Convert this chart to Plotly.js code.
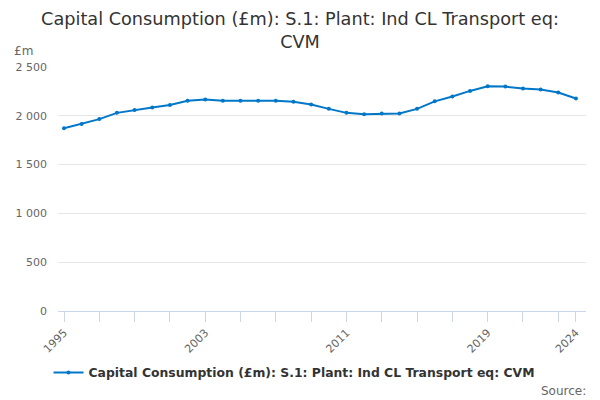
<!DOCTYPE html>
<html>
<head>
<meta charset="utf-8">
<script src="https://cdn.plot.ly/plotly-3.0.1.min.js"></script>
<style>
  body { margin: 0; }
  #chart { width: 600px; height: 400px; }
</style>
</head>
<body>
<div id="chart"></div>
<script>
// values
const years = [1995, 1996, 1997, 1998, 1999, 2000, 2001, 2002, 2003, 2004,
  2005, 2006, 2007, 2008, 2009, 2010, 2011, 2012, 2013, 2014,
  2015, 2016, 2017, 2018, 2019, 2020, 2021, 2022, 2023, 2024];
const capCons = [1872, 1916, 1966, 2030, 2060, 2084, 2111, 2155, 2168, 2155,
  2155, 2155, 2155, 2144, 2116, 2071, 2030, 2017, 2024, 2024,
  2071, 2148, 2198, 2255, 2302, 2299, 2279, 2269, 2239, 2178];
const tickYears = [1995, 1997, 1999, 2001, 2003, 2005, 2007, 2009, 2011,
  2013, 2015, 2017, 2019, 2021, 2023, 2024];
const labelYears = [1995, 2003, 2011, 2019, 2024];
const yTicks = [0, 500, 1000, 1500, 2000, 2500];

const seriesName = 'Capital Consumption (£m): S.1: Plant: Ind CL Transport eq: CVM';
const font = 'DejaVu Sans, Verdana, sans-serif';

const trace = {
  x: years,
  y: capCons,
  name: seriesName,
  type: 'scatter',
  mode: 'lines+markers',
  line: { color: '#0077c8', width: 2 },
  marker: { color: '#0077c8', size: 4 },
  hoverinfo: 'x+y'
};

const layout = {
  width: 600,
  height: 400,
  font: { family: font, color: '#666666' },
  separators: '. ',
  paper_bgcolor: '#ffffff',
  plot_bgcolor: '#ffffff',
  margin: { l: 58, r: 14, t: 67, b: 89 },
  title: {
    text: 'Capital Consumption (£m): S.1: Plant: Ind CL Transport eq:<br>CVM',
    font: { family: font, size: 17.7, color: '#333333' },
    x: 0.5,
    xanchor: 'center',
    yref: 'container',
    y: 0.937,
    yanchor: 'top',
    automargin: false
  },
  xaxis: {
    range: [1994.66, 2024.57],
    tickmode: 'array',
    tickvals: tickYears,
    ticktext: tickYears.map(y => labelYears.includes(y) ? String(y) : ''),
    tickangle: -45,
    ticks: 'outside',
    ticklen: 10,
    tickcolor: '#ccd6eb',
    tickfont: { size: 11, color: '#666666' },
    showgrid: false,
    showline: true,
    linecolor: '#ccd6eb',
    linewidth: 1,
    zeroline: false,
    automargin: false,
    fixedrange: true
  },
  yaxis: {
    range: [0, 2500],
    tickmode: 'array',
    tickvals: yTicks,
    tickformat: ',d',
    tickfont: { size: 11, color: '#666666' },
    ticks: '',
    ticklabelstandoff: 10,
    showgrid: true,
    gridcolor: '#e6e6e6',
    zeroline: false,
    showline: false,
    automargin: false,
    fixedrange: true
  },
  showlegend: true,
  legend: {
    orientation: 'h',
    x: 0.447,
    xanchor: 'center',
    xref: 'paper',
    yref: 'container',
    y: 0.0675,
    yanchor: 'middle',
    itemwidth: 30,
    font: { family: font, size: 12.4, color: '#333333', weight: 'bold' }
  },
  annotations: [
    {
      text: '£m',
      xref: 'paper', yref: 'paper',
      x: -0.087, y: 1.03,
      xanchor: 'left', yanchor: 'bottom',
      showarrow: false,
      font: { family: font, size: 12, color: '#666666' }
    },
    {
      text: 'Source:',
      xref: 'paper', yref: 'paper',
      x: 1.004, y: -0.29,
      xanchor: 'right', yanchor: 'top',
      showarrow: false,
      font: { family: font, size: 12, color: '#666666' }
    }
  ]
};

Plotly.newPlot('chart', [trace], layout, { displayModeBar: false, staticPlot: true });
</script>
</body>
</html>
